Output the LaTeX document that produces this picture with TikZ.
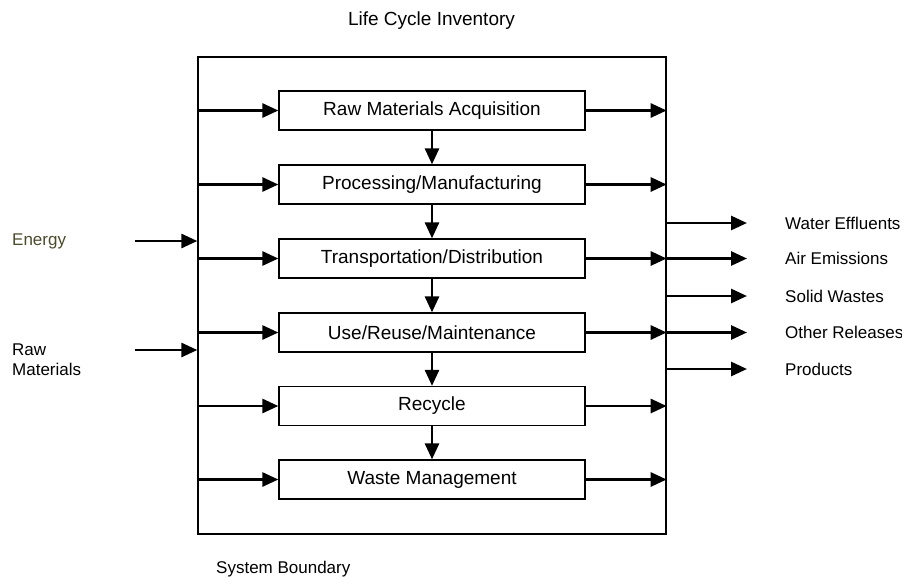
\documentclass[tikz,border=0pt]{standalone}
\usepackage{fontspec}
\setmainfont{Liberation Sans}
\usetikzlibrary{arrows.meta}
\definecolor{energytext}{RGB}{75,75,45}

\tikzset{
  stagebox/.style={draw,line width=1.3pt,minimum width=306pt,minimum height=39pt,
    inner sep=0pt,font=\fontsize{19}{22}\selectfont},
  flow/.style={line width=2.8pt,-{Triangle[length=16pt,width=14pt]}},
  sidetext/.style={anchor=west,inner sep=0pt,font=\fontsize{17}{20}\selectfont}
}

\begin{document}
\begin{tikzpicture}[x=1pt,y=-1pt]
\useasboundingbox (0,0) rectangle (902,579);
\node[draw,line width=1.3pt,minimum width=468pt,minimum height=477pt,inner sep=0pt] (boundary) at (432,295.5) {};
\node[font=\fontsize{19}{22}\selectfont] (title) at (431.5,21) {Life Cycle Inventory};
\node[sidetext] (sysb) at (216,569) {System Boundary};
\node[stagebox] (acq) at (432,110.5) {Raw Materials Acquisition};
\node[stagebox] (proc) at (432,184.5) {Processing/Manufacturing};
\node[stagebox] (trans) at (432,258.5) {Transportation/Distribution};
\node[stagebox] (use) at (432,332.5) {Use/Reuse/Maintenance};
\node[stagebox] (recy) at (432,406) {Recycle};
\node[stagebox] (waste) at (432,479.5) {Waste Management};
\draw[flow] (acq) -- (proc);
\draw[flow] (proc) -- (trans);
\draw[flow] (trans) -- (use);
\draw[flow] (use) -- (recy);
\draw[flow] (recy) -- (waste);
\draw[flow] (boundary.west |- acq.west) -- (acq.west);
\draw[flow] (boundary.west |- proc.west) -- (proc.west);
\draw[flow] (boundary.west |- trans.west) -- (trans.west);
\draw[flow] (boundary.west |- use.west) -- (use.west);
\draw[flow] (boundary.west |- recy.west) -- (recy.west);
\draw[flow] (boundary.west |- waste.west) -- (waste.west);
\draw[flow] (acq.east) -- (boundary.east |- acq.east);
\draw[flow] (proc.east) -- (boundary.east |- proc.east);
\draw[flow] (trans.east) -- (boundary.east |- trans.east);
\draw[flow] (use.east) -- (boundary.east |- use.east);
\draw[flow] (recy.east) -- (boundary.east |- recy.east);
\draw[flow] (waste.east) -- (boundary.east |- waste.east);
\node[sidetext,text=energytext] (energy) at (12,241) {Energy};
\node[sidetext,align=left] (rawmat) at (12,359.5) {Raw\\Materials};
\coordinate (energyin) at (135,241);
\coordinate (rawin) at (135,350);
\draw[flow] (energyin) -- (boundary.west |- energyin);
\draw[flow] (rawin) -- (boundary.west |- rawin);
\node[sidetext] (water) at (785,223) {Water Effluents};
\node[sidetext] (air) at (785,258.5) {Air Emissions};
\node[sidetext] (solid) at (785,296) {Solid Wastes};
\node[sidetext] (other) at (785,332.5) {Other Releases};
\node[sidetext] (prod) at (785,369) {Products};
\coordinate (waterend) at (747,223);
\coordinate (airend) at (747,258.5);
\coordinate (solidend) at (747,296);
\coordinate (otherend) at (747,332.5);
\coordinate (prodend) at (747,369);
\draw[flow] (boundary.east |- waterend) -- (waterend);
\draw[flow] (boundary.east |- airend) -- (airend);
\draw[flow] (boundary.east |- solidend) -- (solidend);
\draw[flow] (boundary.east |- otherend) -- (otherend);
\draw[flow] (boundary.east |- prodend) -- (prodend);
\end{tikzpicture}
\end{document}
